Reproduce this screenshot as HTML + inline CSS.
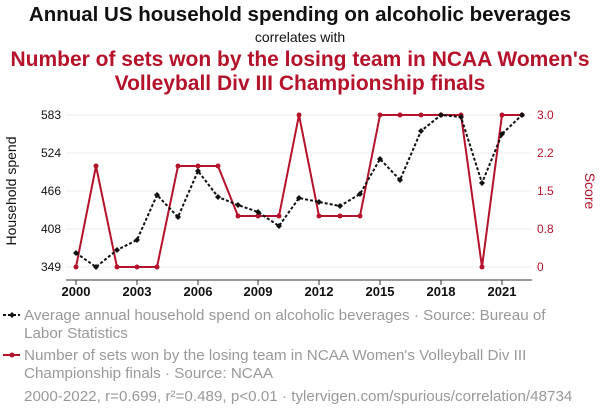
<!DOCTYPE html>
<html><head><meta charset="utf-8"><style>
body{margin:0;background:#fff;width:600px;height:414px;overflow:hidden;font-family:"Liberation Sans",sans-serif}
</style></head><body>
<svg width="600" height="414" xmlns="http://www.w3.org/2000/svg" font-family="Liberation Sans, sans-serif">
<text x="300" y="21" text-anchor="middle" font-size="20.5" font-weight="bold" fill="#111">Annual US household spending on alcoholic beverages</text>
<text x="300" y="42" text-anchor="middle" font-size="14" fill="#111">correlates with</text>
<text x="300" y="66" text-anchor="middle" font-size="21" font-weight="bold" fill="#b5122b">Number of sets won by the losing team in NCAA Women's</text>
<text x="300" y="90" text-anchor="middle" font-size="21" font-weight="bold" fill="#b5122b">Volleyball Div III Championship finals</text>
<g stroke="#eee" stroke-width="1">
<line x1="66" x2="532" y1="115" y2="115"/><line x1="66" x2="532" y1="153" y2="153"/><line x1="66" x2="532" y1="191" y2="191"/><line x1="66" x2="532" y1="229" y2="229"/><line x1="66" x2="532" y1="267" y2="267"/>
</g>
<g font-size="12" fill="#111" text-anchor="end">
<text x="61" y="119">583</text><text x="61" y="157">524</text><text x="61" y="195">466</text><text x="61" y="233">408</text><text x="61" y="271">349</text>
</g>
<g font-size="12" fill="#b5122b">
<text x="537" y="119">3.0</text><text x="537" y="157">2.2</text><text x="537" y="195">1.5</text><text x="537" y="233">0.8</text><text x="537" y="271">0</text>
</g>
<text transform="translate(16,191) rotate(-90)" text-anchor="middle" font-size="14" fill="#111">Household spend</text>
<text transform="translate(585,191) rotate(90)" text-anchor="middle" font-size="14" fill="#b5122b">Score</text>
<line x1="66" x2="532" y1="280" y2="280" stroke="#333"/>
<g font-size="13" font-weight="bold" fill="#111" text-anchor="middle">
<text x="76" y="296">2000</text><text x="137" y="296">2003</text><text x="198" y="296">2006</text><text x="258" y="296">2009</text><text x="319" y="296">2012</text><text x="380" y="296">2015</text><text x="441" y="296">2018</text><text x="502" y="296">2021</text>
</g>
<g stroke="#333"><line x1="76" x2="76" y1="280" y2="285"/><line x1="137" x2="137" y1="280" y2="285"/><line x1="198" x2="198" y1="280" y2="285"/><line x1="258" x2="258" y1="280" y2="285"/><line x1="319" x2="319" y1="280" y2="285"/><line x1="380" x2="380" y1="280" y2="285"/><line x1="441" x2="441" y1="280" y2="285"/><line x1="502" x2="502" y1="280" y2="285"/></g>
<polyline fill="none" stroke="#b5122b" stroke-width="2" points="76,267 96,166 117,267 137,267 157,267 178,166 198,166 218,166 238,216 258,216 279,216 299,115 319,216 340,216 360,216 380,115 400,115 421,115 441,115 461,115 482,267 502,115 522,115"/>
<g fill="#b5122b"><circle cx="76" cy="267" r="2.5"/><circle cx="96" cy="166" r="2.5"/><circle cx="117" cy="267" r="2.5"/><circle cx="137" cy="267" r="2.5"/><circle cx="157" cy="267" r="2.5"/><circle cx="178" cy="166" r="2.5"/><circle cx="198" cy="166" r="2.5"/><circle cx="218" cy="166" r="2.5"/><circle cx="238" cy="216" r="2.5"/><circle cx="258" cy="216" r="2.5"/><circle cx="279" cy="216" r="2.5"/><circle cx="299" cy="115" r="2.5"/><circle cx="319" cy="216" r="2.5"/><circle cx="340" cy="216" r="2.5"/><circle cx="360" cy="216" r="2.5"/><circle cx="380" cy="115" r="2.5"/><circle cx="400" cy="115" r="2.5"/><circle cx="421" cy="115" r="2.5"/><circle cx="441" cy="115" r="2.5"/><circle cx="461" cy="115" r="2.5"/><circle cx="482" cy="267" r="2.5"/><circle cx="502" cy="115" r="2.5"/><circle cx="522" cy="115" r="2.5"/></g>
<polyline fill="none" stroke="#111" stroke-width="2" stroke-dasharray="3,2" points="76,253 96,267 117,250 137,240 157,195 178,217 198,171 218,197 238,205 258,212 279,226 299,198 319,202 340,206 360,194 380,159 400,180 421,131 441,115 461,117 482,183 502,134 522,115"/>
<g fill="#111"><path d="M76 250l3 3-3 3-3-3z"/><path d="M96 264l3 3-3 3-3-3z"/><path d="M117 247l3 3-3 3-3-3z"/><path d="M137 237l3 3-3 3-3-3z"/><path d="M157 192l3 3-3 3-3-3z"/><path d="M178 214l3 3-3 3-3-3z"/><path d="M198 168l3 3-3 3-3-3z"/><path d="M218 194l3 3-3 3-3-3z"/><path d="M238 202l3 3-3 3-3-3z"/><path d="M258 209l3 3-3 3-3-3z"/><path d="M279 223l3 3-3 3-3-3z"/><path d="M299 195l3 3-3 3-3-3z"/><path d="M319 199l3 3-3 3-3-3z"/><path d="M340 203l3 3-3 3-3-3z"/><path d="M360 191l3 3-3 3-3-3z"/><path d="M380 156l3 3-3 3-3-3z"/><path d="M400 177l3 3-3 3-3-3z"/><path d="M421 128l3 3-3 3-3-3z"/><path d="M441 112l3 3-3 3-3-3z"/><path d="M461 114l3 3-3 3-3-3z"/><path d="M482 180l3 3-3 3-3-3z"/><path d="M502 131l3 3-3 3-3-3z"/><path d="M522 112l3 3-3 3-3-3z"/></g>
<line x1="3" x2="20" y1="315" y2="315" stroke="#111" stroke-width="2" stroke-dasharray="3,2"/><path d="M12 312l3 3-3 3-3-3z" fill="#111"/>
<g font-size="15.2" fill="#999">
<text x="24" y="320">Average annual household spend on alcoholic beverages · Source: Bureau of</text>
<text x="24" y="338">Labor Statistics</text>
<text x="24" y="360">Number of sets won by the losing team in NCAA Women's Volleyball Div III</text>
<text x="24" y="378">Championship finals · Source: NCAA</text>
<text x="24" y="401">2000-2022, r=0.699, r²=0.489, p&lt;0.01 · tylervigen.com/spurious/correlation/48734</text>
</g>
<line x1="3" x2="20" y1="355" y2="355" stroke="#b5122b" stroke-width="2"/><circle cx="12" cy="355" r="2.5" fill="#b5122b"/>
</svg>
</body></html>
